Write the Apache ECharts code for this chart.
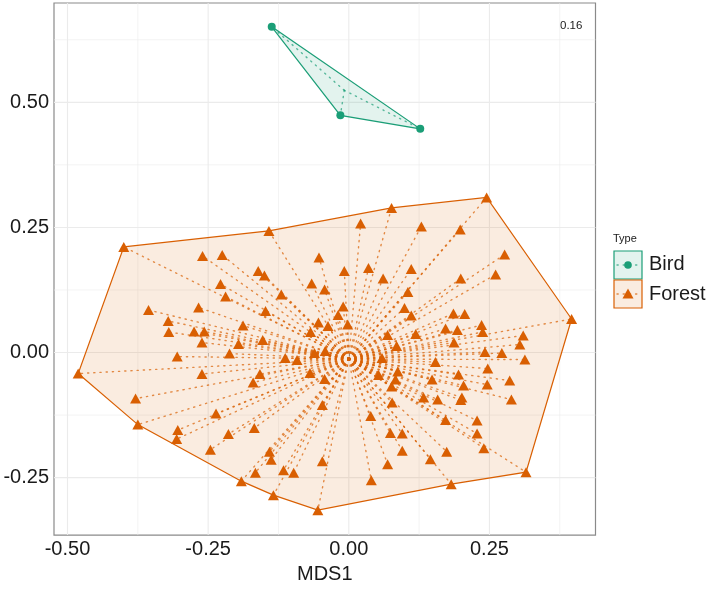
<!DOCTYPE html>
<html>
<head>
<meta charset="utf-8">
<script src="https://cdn.jsdelivr.net/npm/echarts@6/dist/echarts.min.js"></script>
<style>
  html, body { margin: 0; padding: 0; background: #fff; }
  #chart { width: 709px; height: 589px; }
</style>
</head>
<body>
<div id="chart"></div>
<script>
// axis ranges and breaks
var xRange = [-0.524, 0.4385];
var yRange = [-0.3648, 0.6985];
var xBreaks = [-0.5, -0.25, 0, 0.25];
var yBreaks = [-0.25, 0, 0.25, 0.5];
var xMinor = [-0.375, -0.125, 0.125, 0.375];
var yMinor = [-0.125, 0.125, 0.375, 0.625];

// Bird sites (MDS1, MDS2)
var birdPts = [
    [-0.137, 0.651], [-0.015, 0.474], [0.127, 0.447]
];
var birdCentre = [-0.008, 0.524];

// Forest sites; first 12 are the hull vertices, in drawing order
var forestPts = [
    [-0.400, 0.211], [-0.142, 0.243], [0.076, 0.289], [0.245, 0.310],
    [0.396, 0.067], [0.315, -0.239], [0.182, -0.263], [-0.055, -0.315],
    [-0.134, -0.285], [-0.191, -0.257], [-0.375, -0.144], [-0.481, -0.042],
    [-0.260, 0.193], [-0.225, 0.195], [-0.053, 0.190], [0.021, 0.258],
    [0.129, 0.252], [0.198, 0.246], [0.277, 0.196], [0.261, 0.156],
    [0.199, 0.148], [0.111, 0.167], [0.035, 0.169], [-0.008, 0.163],
    [0.061, 0.148], [-0.161, 0.163], [-0.150, 0.154], [-0.228, 0.137],
    [-0.219, 0.112], [-0.066, 0.138], [-0.043, 0.126], [-0.120, 0.116],
    [0.105, 0.121], [0.099, 0.089], [0.111, 0.074], [-0.010, 0.092],
    [-0.019, 0.075], [-0.148, 0.083], [-0.267, 0.090], [-0.356, 0.085],
    [-0.321, 0.063], [-0.320, 0.041], [-0.275, 0.042], [-0.257, 0.042],
    [-0.261, 0.020], [-0.188, 0.054], [-0.153, 0.025], [-0.196, 0.017],
    [-0.212, -0.002], [-0.305, -0.008], [-0.261, -0.043], [-0.054, 0.060],
    [-0.037, 0.053], [-0.068, 0.041], [-0.002, 0.056], [0.069, 0.035],
    [0.119, 0.037], [0.186, 0.078], [0.206, 0.077], [0.172, 0.048],
    [0.193, 0.045], [0.236, 0.055], [0.238, 0.041], [0.187, 0.020],
    [0.085, 0.013], [0.310, 0.034], [0.304, 0.016], [0.242, 0.001],
    [0.272, -0.001], [0.313, -0.014], [0.154, -0.019], [-0.042, 0.003],
    [-0.061, -0.001], [-0.113, -0.011], [-0.092, -0.015], [0.059, -0.011],
    [0.087, -0.038], [0.053, -0.045], [-0.069, -0.041], [-0.158, -0.043],
    [-0.170, -0.060], [-0.043, -0.053], [0.083, -0.054], [0.076, -0.068],
    [0.148, -0.054], [0.195, -0.044], [0.204, -0.066], [0.247, -0.032],
    [0.246, -0.064], [0.286, -0.056], [0.289, -0.094], [0.201, -0.090],
    [0.199, -0.095], [0.158, -0.094], [0.133, -0.090], [0.077, -0.100],
    [-0.047, -0.105], [-0.379, -0.092], [-0.236, -0.122], [-0.304, -0.155],
    [-0.306, -0.173], [-0.214, -0.163], [-0.168, -0.151], [-0.246, -0.194],
    [-0.141, -0.198], [-0.138, -0.214], [-0.166, -0.240], [-0.116, -0.235],
    [-0.098, -0.240], [-0.047, -0.217], [0.039, -0.127], [0.074, -0.161],
    [0.095, -0.162], [0.095, -0.196], [0.069, -0.223], [0.040, -0.255],
    [0.145, -0.213], [0.172, -0.135], [0.174, -0.198], [0.228, -0.136],
    [0.228, -0.162], [0.240, -0.191]
];
var forestHull = [0, 1, 2, 3, 4, 5, 6, 7, 8, 9, 10, 11];
var forestCentre = [0.0, -0.013];

var stressText = '0.16';

var birdColor = '#1b9e77';
var forestColor = '#d95f02';
var birdFill = 'rgba(27,158,119,0.12)';
var forestFill = 'rgba(217,95,2,0.12)';
var font = '"Liberation Sans", Arial, sans-serif';
var spiderStyle = { lineWidth: 1.4, lineDash: [1.2, 5], lineCap: 'round', opacity: 0.7 };

// grid lines: [value, vertical?, major?]
var gridData = [];
xBreaks.forEach(function (v) { gridData.push([v, 1, 1]); });
xMinor.forEach(function (v) { gridData.push([v, 1, 0]); });
yBreaks.forEach(function (v) { gridData.push([v, 0, 1]); });
yMinor.forEach(function (v) { gridData.push([v, 0, 0]); });

function hullSeries(pts, idx, line, fill) {
    return {
        type: 'custom',
        z: 2,
        silent: true,
        data: [[0, 0]],
        renderItem: function (params, api) {
            var poly = idx.map(function (i) { return api.coord(pts[i]); });
            return {
                type: 'polygon',
                shape: { points: poly },
                style: { fill: fill, stroke: line, lineWidth: 1.2 }
            };
        }
    };
}

function spiderSeries(pts, centre, color) {
    return {
        type: 'custom',
        z: 3,
        silent: true,
        data: pts,
        renderItem: function (params, api) {
            var a = api.coord(centre);
            var b = api.coord([api.value(0), api.value(1)]);
            return {
                type: 'line',
                shape: { x1: a[0], y1: a[1], x2: b[0], y2: b[1] },
                style: Object.assign({ stroke: color }, spiderStyle)
            };
        }
    };
}

var chart = echarts.init(document.getElementById('chart'), null, { renderer: 'canvas' });

chart.setOption({
    animation: false,
    backgroundColor: '#fff',
    textStyle: { fontFamily: font },
    grid: {
        left: 54, top: 3, width: 541.5, height: 537,
        show: true, borderColor: '#8a8a8a', borderWidth: 1.2, backgroundColor: '#fff'
    },
    xAxis: {
        type: 'value',
        min: xRange[0], max: xRange[1],
        name: 'MDS1',
        nameLocation: 'middle',
        nameGap: 27,
        nameTextStyle: { fontSize: 20, color: '#1a1a1a', fontFamily: font },
        axisLine: { show: false },
        splitLine: { show: false },
        axisTick: { show: true, length: 4, customValues: xBreaks, lineStyle: { color: '#555', width: 1 } },
        axisLabel: {
            customValues: xBreaks, margin: 4, fontSize: 20, color: '#1a1a1a', fontFamily: font,
            formatter: function (v) { return v.toFixed(2); }
        }
    },
    yAxis: {
        type: 'value',
        min: yRange[0], max: yRange[1],
        axisLine: { show: false },
        splitLine: { show: false },
        axisTick: { show: true, length: 4, customValues: yBreaks, lineStyle: { color: '#555', width: 1 } },
        axisLabel: {
            customValues: yBreaks, margin: 5, fontSize: 20, color: '#1a1a1a', fontFamily: font,
            padding: [0, 0, 10, 0],
            formatter: function (v) { return v.toFixed(2); }
        }
    },
    series: [
        {
            type: 'custom',
            z: 1,
            silent: true,
            data: gridData,
            renderItem: function (params, api) {
                var cs = params.coordSys;
                var v = api.value(0);
                var style = { stroke: '#ebebeb', lineWidth: api.value(2) === 1 ? 1.1 : 0.6 };
                if (api.value(1) === 1) {
                    var px = api.coord([v, yRange[0]])[0];
                    return { type: 'line', shape: { x1: px, y1: cs.y, x2: px, y2: cs.y + cs.height }, style: style };
                }
                var py = api.coord([xRange[0], v])[1];
                return { type: 'line', shape: { x1: cs.x, y1: py, x2: cs.x + cs.width, y2: py }, style: style };
            }
        },
        hullSeries(birdPts, [0, 1, 2], birdColor, birdFill),
        hullSeries(forestPts, forestHull, forestColor, forestFill),
        spiderSeries(birdPts, birdCentre, birdColor),
        spiderSeries(forestPts, forestCentre, forestColor),
        {
            name: 'Bird',
            type: 'scatter',
            z: 4,
            symbol: 'circle',
            symbolSize: 8,
            itemStyle: { color: birdColor, opacity: 1 },
            data: birdPts
        },
        {
            name: 'Forest',
            type: 'scatter',
            z: 4,
            symbol: 'triangle',
            symbolSize: [11, 10],
            itemStyle: { color: forestColor, opacity: 1 },
            data: forestPts
        }
    ],
    graphic: [
        { type: 'text', left: 560, top: 20, style: { text: stressText, font: '11.5px ' + font, fill: '#1a1a1a' } },
        { type: 'text', left: 613, top: 233, style: { text: 'Type', font: '11px ' + font, fill: '#1a1a1a' } },
        { type: 'rect', shape: { x: 614, y: 251, width: 28, height: 28 }, style: { fill: birdFill, stroke: birdColor, lineWidth: 1.2 } },
        { type: 'line', shape: { x1: 617, y1: 265, x2: 639, y2: 265 }, style: Object.assign({ stroke: birdColor }, spiderStyle) },
        { type: 'circle', shape: { cx: 628, cy: 265, r: 3.8 }, style: { fill: birdColor } },
        { type: 'rect', shape: { x: 614, y: 280, width: 28, height: 28 }, style: { fill: forestFill, stroke: forestColor, lineWidth: 1.2 } },
        { type: 'line', shape: { x1: 617, y1: 294, x2: 639, y2: 294 }, style: Object.assign({ stroke: forestColor }, spiderStyle) },
        { type: 'polygon', shape: { points: [[628, 288.5], [633.5, 298.5], [622.5, 298.5]] }, style: { fill: forestColor } },
        { type: 'text', left: 649, top: 254, style: { text: 'Bird', font: '20px ' + font, fill: '#1a1a1a' } },
        { type: 'text', left: 649, top: 284, style: { text: 'Forest', font: '20px ' + font, fill: '#1a1a1a' } }
    ]
});
</script>
</body>
</html>
